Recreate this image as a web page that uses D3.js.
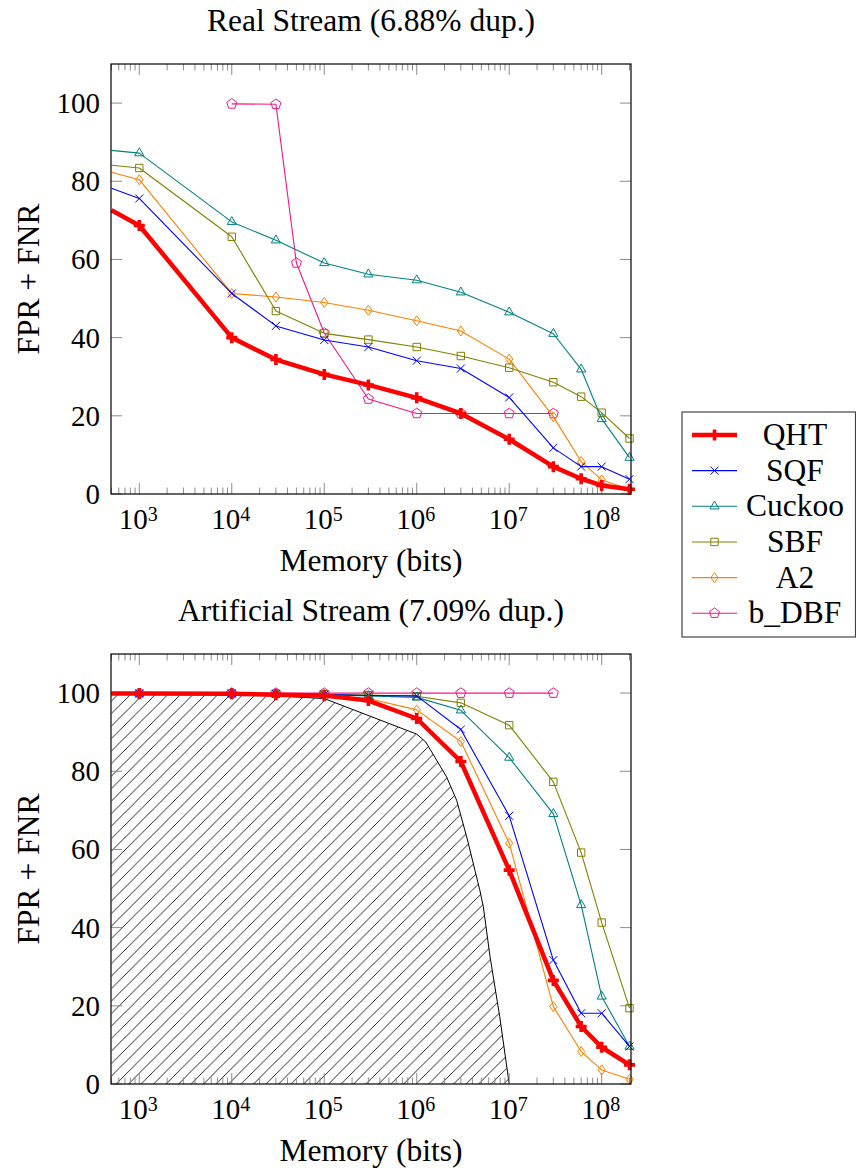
<!DOCTYPE html>
<html>
<head>
<meta charset="utf-8">
<script src="https://cdn.jsdelivr.net/npm/d3@7"></script>
<style>
  html, body { margin: 0; padding: 0; background: #fff; }
  svg { display: block; }
</style>
</head>
<body>
<svg id="chart" width="856" height="1171"></svg>
<script>
// ---------------- DATA ----------------
const memory = [500, 1e3, 1e4, 3e4, 1e5, 3e5, 1e6, 3e6, 1e7, 3e7, 6e7, 1e8, 2e8];
const seriesNames = ["QHT", "SQF", "Cuckoo", "SBF", "A2", "b_DBF"];

// Real stream
const qhtReal    = [72.6, 68.7, 40.0, 34.4, 30.6, 27.9, 24.6, 20.6, 14.0, 7.0, 3.9, 2.2, 1.2];
const sqfReal    = [78.2, 75.6, 51.3, 43.0, 39.4, 37.6, 34.1, 32.1, 24.7, 11.8, 7.0, 7.0, 3.8];
const cuckooReal = [87.9, 87.2, 69.6, 64.9, 59.1, 56.2, 54.7, 51.6, 46.5, 41.0, 31.9, 19.2, 9.3];
const sbfReal    = [84.1, 83.4, 65.8, 46.8, 41.1, 39.5, 37.6, 35.3, 32.3, 28.6, 24.9, 20.8, 14.2];
const a2Real     = [82.3, 80.4, 51.3, 50.4, 49.0, 47.0, 44.3, 41.7, 34.5, 19.8, 8.3, 3.6, 1.2];
const dbfRealMemory = [1e4, 3e4, 5e4, 1e5, 3e5, 1e6, 3e6, 1e7, 3e7];
const dbfReal       = [99.8, 99.7, 59.1, 41.2, 24.3, 20.6, 20.6, 20.6, 20.6];

// Artificial stream
const qhtArt    = [99.9, 99.9, 99.8, 99.6, 99.4, 98.1, 93.5, 82.5, 54.7, 26.5, 14.7, 9.4, 4.9];
const sqfArt    = [99.9, 99.9, 99.9, 99.8, 99.6, 99.4, 99.3, 90.7, 68.6, 31.7, 18.1, 18.1, 9.6];
const cuckooArt = [99.9, 99.9, 99.9, 99.8, 99.6, 99.3, 98.9, 95.6, 83.5, 69.1, 45.8, 22.4, 9.6];
const sbfArt    = [99.9, 99.9, 99.9, 99.8, 99.7, 99.5, 99.2, 97.5, 91.8, 77.3, 59.2, 41.3, 19.4];
const a2Art     = [99.9, 99.9, 99.8, 99.6, 99.3, 98.6, 95.7, 87.6, 61.6, 19.8, 8.3, 3.6, 1.2];
const dbfArtMemory = [1e4, 3e4, 1e5, 3e5, 1e6, 3e6, 1e7, 3e7];
const dbfArt       = [100, 100, 100, 100, 100, 100, 100, 100];

// Lower bound (hatched region, artificial stream)
const boundMemory = [500, 1e3, 1e4, 3e4, 1e5, 1e6, 1.25e6, 2.1e6, 2.7e6, 3.5e6, 4.8e6, 5.25e6, 6.2e6, 7.9e6, 1e7];
const boundValues = [99.8, 99.8, 99.6, 99.3, 98.6, 89.5, 87.5, 78.6, 72.6, 62.9, 49.7, 45.4, 32.6, 17.2, 0];

const yTicks = [0, 20, 40, 60, 80, 100];
const xTickExps = [3, 4, 5, 6, 7, 8];
const titles = ["Real Stream (6.88% dup.)", "Artificial Stream (7.09% dup.)"];
const xLabel = "Memory (bits)";
const yLabel = "FPR + FNR";

// ---------------- STYLE ----------------
const FONTFAM = "'Liberation Serif', 'Times New Roman', Times, 'DejaVu Serif', serif";
const styles = {
  QHT:    { color: "#ff0000", width: 4.5, mark: "plus" },
  SQF:    { color: "#0000ff", width: 1.1, mark: "cross" },
  Cuckoo: { color: "#008080", width: 1.1, mark: "triangle" },
  SBF:    { color: "#808000", width: 1.1, mark: "square" },
  A2:     { color: "#ff8000", width: 1.1, mark: "diamond" },
  b_DBF:  { color: "#f5148c", width: 1.1, mark: "pentagon" }
};

function markPath(type) {
  switch (type) {
    case "plus": return "M-5.5,0H5.5M0,-5.5V5.5";
    case "cross": return "M-4,-4L4,4M-4,4L4,-4";
    case "triangle": { const r = 5.3; return `M0,${-r}L${r*0.866},${r*0.5}L${-r*0.866},${r*0.5}Z`; }
    case "square": return "M-3.7,-3.7H3.7V3.7H-3.7Z";
    case "diamond": return "M0,-5L3.6,0L0,5L-3.6,0Z";
    case "pentagon": {
      const r = 5.3; let p = [];
      for (let i = 0; i < 5; i++) { const a = -Math.PI/2 + i*2*Math.PI/5; p.push([r*Math.cos(a), r*Math.sin(a)]); }
      return "M" + p.map(d => d.join(",")).join("L") + "Z";
    }
  }
}

const svg = d3.select("#chart").attr("font-family", FONTFAM);
const FONT = 29;     // numbers
const WFONT = 31.5;  // words

const defs = svg.append("defs");
const hs = 12.5;
defs.append("pattern").attr("id", "hatch").attr("patternUnits", "userSpaceOnUse")
  .attr("width", hs).attr("height", hs)
  .append("path")
  .attr("d", `M-1,1L1,-1M0,${hs}L${hs},0M${hs-1},${hs+1}L${hs+1},${hs-1}`)
  .attr("stroke", "#000").attr("stroke-width", 0.85);

const plotW = { left: 111, right: 631 };
const panels = [
  { top: 64, bottom: 494, title: titles[0],
    series: [
      { name: "QHT", xs: memory, ys: qhtReal },
      { name: "SQF", xs: memory, ys: sqfReal },
      { name: "Cuckoo", xs: memory, ys: cuckooReal },
      { name: "SBF", xs: memory, ys: sbfReal },
      { name: "A2", xs: memory, ys: a2Real },
      { name: "b_DBF", xs: dbfRealMemory, ys: dbfReal }
    ], bound: false },
  { top: 654, bottom: 1084, title: titles[1],
    series: [
      { name: "QHT", xs: memory, ys: qhtArt },
      { name: "SQF", xs: memory, ys: sqfArt },
      { name: "Cuckoo", xs: memory, ys: cuckooArt },
      { name: "SBF", xs: memory, ys: sbfArt },
      { name: "A2", xs: memory, ys: a2Art },
      { name: "b_DBF", xs: dbfArtMemory, ys: dbfArt }
    ], bound: true }
];

function txt(sel) { return sel.append("text").attr("font-family", FONTFAM).attr("fill", "#000"); }

panels.forEach((P, pi) => {
  const x = d3.scaleLog().domain([Math.pow(10, 2.694), Math.pow(10, 8.317)]).range([plotW.left, plotW.right]);
  const y = d3.scaleLinear().domain([0, 110]).range([P.bottom, P.top]);
  const g = svg.append("g");
  const clipId = "clip" + pi;
  defs.append("clipPath").attr("id", clipId).append("rect")
    .attr("x", plotW.left).attr("y", P.top)
    .attr("width", plotW.right - plotW.left).attr("height", P.bottom - P.top);

  // hatched bound region
  if (P.bound) {
    const pts = boundMemory.map((m, i) => [x(m), y(boundValues[i])]);
    const poly = pts.concat([[x(boundMemory[boundMemory.length-1]), y(0)], [x(boundMemory[0]), y(0)]]);
    g.append("path").attr("clip-path", `url(#${clipId})`)
      .attr("d", "M" + poly.map(p => p.join(",")).join("L") + "Z")
      .attr("fill", "url(#hatch)").attr("stroke", "none");
    g.append("path").attr("clip-path", `url(#${clipId})`)
      .attr("d", d3.line()(pts))
      .attr("fill", "none").attr("stroke", "#000").attr("stroke-width", 1);
  }

  // ticks
  const tickG = g.append("g").attr("stroke", "#8c8c8c").attr("stroke-width", 1);
  const [d0, d1] = x.domain();
  for (let e = 2; e <= 8; e++) {
    for (let k = 1; k <= 9; k++) {
      const v = k * Math.pow(10, e);
      if (v < d0 || v > d1) continue;
      const len = k === 1 ? 11 : 6.5;
      const px = x(v);
      tickG.append("line").attr("x1", px).attr("x2", px).attr("y1", P.bottom).attr("y2", P.bottom - len);
      tickG.append("line").attr("x1", px).attr("x2", px).attr("y1", P.top).attr("y2", P.top + len);
    }
  }
  yTicks.forEach(t => {
    const py = y(t);
    tickG.append("line").attr("x1", plotW.left).attr("x2", plotW.left + 11).attr("y1", py).attr("y2", py);
    tickG.append("line").attr("x1", plotW.right).attr("x2", plotW.right - 11).attr("y1", py).attr("y2", py);
  });

  // tick labels
  yTicks.forEach(t => {
    txt(g).attr("x", 100).attr("y", y(t) + 10).attr("text-anchor", "end")
      .attr("font-size", FONT).text(t);
  });
  xTickExps.forEach(e => {
    const t = txt(g).attr("x", x(Math.pow(10, e)) - 1).attr("y", P.bottom + 35)
      .attr("text-anchor", "middle").attr("font-size", FONT);
    t.append("tspan").text("10");
    t.append("tspan").attr("dy", -8.5).attr("font-size", 20).text(e);
  });

  // labels
  txt(g).attr("x", (plotW.left + plotW.right) / 2).attr("y", P.bottom + 77)
    .attr("text-anchor", "middle").attr("font-size", WFONT).text(xLabel);
  txt(g).attr("transform", `translate(39,${(P.top + P.bottom) / 2}) rotate(-90)`)
    .attr("text-anchor", "middle").attr("font-size", WFONT).text(yLabel);
  txt(g).attr("x", (plotW.left + plotW.right) / 2).attr("y", P.top - 33)
    .attr("text-anchor", "middle").attr("font-size", WFONT).text(P.title);

  // series (draw in reverse so QHT on top)
  const line = d3.line().x(d => x(d[0])).y(d => y(d[1]));
  P.series.slice().reverse().forEach(s => {
    const st = styles[s.name];
    const pts = s.xs.map((m, i) => [m, s.ys[i]]);
    g.append("path").attr("clip-path", `url(#${clipId})`)
      .attr("d", line(pts)).attr("fill", "none")
      .attr("stroke", st.color).attr("stroke-width", st.width).attr("stroke-linejoin", "round");
    g.append("g").selectAll("path").data(pts.filter(p => p[0] >= 1000)).join("path")
      .attr("transform", p => `translate(${x(p[0])},${y(p[1])})`)
      .attr("d", markPath(st.mark)).attr("fill", "none").attr("stroke", st.color)
      .attr("stroke-width", st.mark === "plus" ? 3.6 : 1);
  });

  // frame
  g.append("rect").attr("x", plotW.left).attr("y", P.top)
    .attr("width", plotW.right - plotW.left).attr("height", P.bottom - P.top)
    .attr("fill", "none").attr("stroke", "#000").attr("stroke-width", 1.2);
});

// legend
const lg = svg.append("g");
lg.append("rect").attr("x", 682).attr("y", 412).attr("width", 173.5).attr("height", 225)
  .attr("fill", "#fff").attr("stroke", "#444").attr("stroke-width", 1.2);
seriesNames.forEach((n, i) => {
  const st = styles[n];
  const cy = 435 + i * 35.65;
  lg.append("line").attr("x1", 692).attr("x2", 737).attr("y1", cy).attr("y2", cy)
    .attr("stroke", st.color).attr("stroke-width", st.width);
  lg.append("path").attr("transform", `translate(714.5,${cy})`).attr("d", markPath(st.mark))
    .attr("fill", "none").attr("stroke", st.color).attr("stroke-width", st.mark === "plus" ? 3.6 : 1);
  txt(lg).attr("x", 795).attr("y", cy + 10).attr("text-anchor", "middle")
    .attr("font-size", WFONT).text(n);
});
</script>
</body>
</html>
